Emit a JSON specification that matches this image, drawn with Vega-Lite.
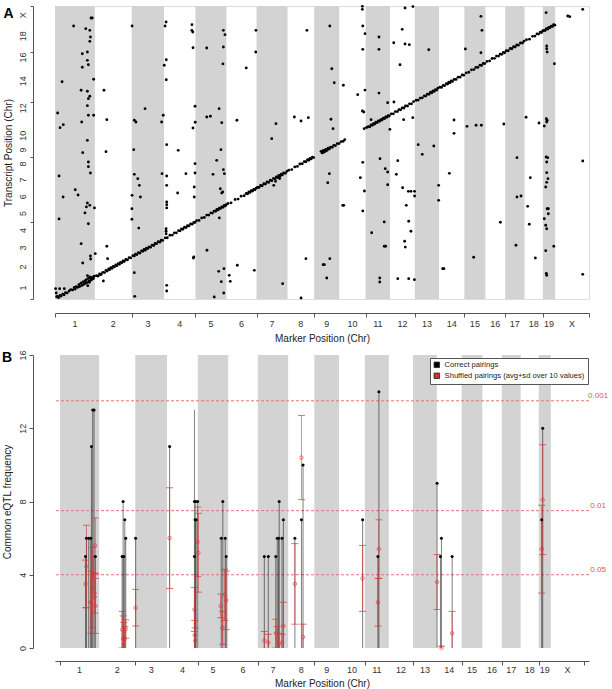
{
"$schema": "https://vega.github.io/schema/vega-lite/v6.json",
"padding": {"left": 2, "top": 4, "right": 0, "bottom": 0},
"spacing": 5,
"config": {
  "font": "Liberation Sans",
  "view": {"stroke": null},
  "axis": {"grid": false, "domainColor": "#555", "tickColor": "#555", "labelColor": "#333", "titleColor": "#222", "labelFontSize": 9, "titleFontSize": 10, "titleFontWeight": "normal", "tickSize": 4, "labelPadding": 2, "labelFlush": false, "labelOverlap": false}
},
"datasets": {
  "chr": [
    {"c":"1","s":0,"e":197,"m":98.5,"g":1},{"c":"2","s":197,"e":379,"m":288,"g":0},{"c":"3","s":379,"e":539,"m":459,"g":1},{"c":"4","s":539,"e":694,"m":616.5,"g":0},
    {"c":"5","s":694,"e":847,"m":770.5,"g":1},{"c":"6","s":847,"e":996,"m":921.5,"g":0},{"c":"7","s":996,"e":1149,"m":1072.5,"g":1},{"c":"8","s":1149,"e":1281,"m":1215,"g":0},
    {"c":"9","s":1281,"e":1405,"m":1343,"g":1},{"c":"10","s":1405,"e":1535,"m":1470,"g":0},{"c":"11","s":1535,"e":1656,"m":1595.5,"g":1},{"c":"12","s":1656,"e":1778,"m":1717,"g":0},
    {"c":"13","s":1778,"e":1898,"m":1838,"g":1},{"c":"14","s":1898,"e":2023,"m":1960.5,"g":0},{"c":"15","s":2023,"e":2127,"m":2075,"g":1},{"c":"16","s":2127,"e":2225,"m":2176,"g":0},
    {"c":"17","s":2225,"e":2320,"m":2272.5,"g":1},{"c":"18","s":2320,"e":2411,"m":2365.5,"g":0},{"c":"19","s":2411,"e":2472,"m":2441.5,"g":1},{"c":"X","s":2472,"e":2639,"m":2555.5,"g":0}
  ],
  "pts": [
    {"x":92,"y":2459},{"x":13,"y":1675},{"x":25,"y":1543},{"x":41,"y":1570},{"x":35,"y":1957},{"x":20,"y":1108},{"x":40,"y":919},{"x":20,"y":721},{"x":100,"y":984},{"x":114,"y":937},{"x":132,"y":1594},{"x":137,"y":1318},{"x":129,"y":1880},{"x":135,"y":2209},{"x":135,"y":2087},{"x":152,"y":2435},{"x":160,"y":2225},{"x":160,"y":2150},{"x":165,"y":2110},{"x":160,"y":1871},{"x":165,"y":1804},{"x":172,"y":1826},{"x":160,"y":1741},{"x":165,"y":1655},{"x":160,"y":1429},{"x":165,"y":1234},{"x":165,"y":1192},{"x":175,"y":1135},{"x":172,"y":2420},{"x":175,"y":2360},{"x":172,"y":2321},{"x":178,"y":2531},{"x":184,"y":2531},{"x":191,"y":1979},{"x":191,"y":1655},{"x":195,"y":820},{"x":160,"y":865},{"x":172,"y":844},{"x":155,"y":829},{"x":148,"y":775},{"x":165,"y":678},{"x":129,"y":498},{"x":137,"y":324},{"x":175,"y":387},{"x":176,"y":360},{"x":3,"y":93},{"x":23,"y":93},{"x":46,"y":93},{"x":6,"y":54},
    {"x":199,"y":408},{"x":242,"y":1880},{"x":256,"y":1615},{"x":252,"y":1327},{"x":256,"y":475},{"x":260,"y":363},{"x":239,"y":162},{"x":224,"y":219},
    {"x":381,"y":2459},{"x":389,"y":1345},{"x":392,"y":1123},{"x":392,"y":1610},{"x":400,"y":1594},{"x":381,"y":934},{"x":380,"y":813},{"x":380,"y":718},{"x":409,"y":1084},{"x":417,"y":1024},{"x":422,"y":919},{"x":414,"y":639},{"x":445,"y":1714},{"x":392,"y":237},{"x":394,"y":24},{"x":527,"y":1594},{"x":535,"y":1655},{"x":529,"y":1129},
    {"x":544,"y":2459},{"x":549,"y":2495},{"x":540,"y":2105},{"x":550,"y":2155},{"x":550,"y":1975},{"x":552,"y":1390},{"x":552,"y":1108},{"x":552,"y":1024},{"x":552,"y":874},{"x":552,"y":849},{"x":552,"y":820},{"x":549,"y":633},{"x":549,"y":610},{"x":549,"y":588},{"x":552,"y":123},{"x":552,"y":72},{"x":609,"y":1339},{"x":647,"y":1129},{"x":606,"y":955},{"x":677,"y":2471},{"x":676,"y":2420},{"x":681,"y":2405},{"x":682,"y":2263},{"x":692,"y":1736},{"x":682,"y":1540},{"x":693,"y":1592},{"x":692,"y":1219},{"x":692,"y":1135},{"x":688,"y":1009},{"x":688,"y":919},{"x":684,"y":369},{"x":686,"y":378},
    {"x":750,"y":2261},{"x":750,"y":1639},{"x":768,"y":1646},{"x":751,"y":439},{"x":781,"y":1123},{"x":799,"y":1249},{"x":787,"y":18},{"x":811,"y":1714},{"x":812,"y":730},{"x":817,"y":993},{"x":820,"y":1345},{"x":824,"y":1588},{"x":822,"y":156},{"x":809,"y":249},{"x":832,"y":2420},{"x":840,"y":2381},{"x":832,"y":2270},{"x":830,"y":2117},{"x":832,"y":1165},{"x":837,"y":1129},{"x":829,"y":964},{"x":835,"y":273},{"x":834,"y":54},{"x":824,"y":955},
    {"x":899,"y":1610},{"x":901,"y":304},{"x":861,"y":213},{"x":866,"y":159},{"x":945,"y":2081},{"x":985,"y":258},{"x":993,"y":2420},{"x":992,"y":2225},
    {"x":1071,"y":1444},{"x":1092,"y":1579},{"x":1125,"y":138},{"x":1081,"y":1024},
    {"x":1183,"y":1639},{"x":1216,"y":1603},{"x":1252,"y":1633},{"x":1245,"y":2420},{"x":1240,"y":363},{"x":1216,"y":9},
    {"x":1358,"y":2459},{"x":1368,"y":2074},{"x":1380,"y":1948},{"x":1364,"y":1619},{"x":1374,"y":1534},{"x":1356,"y":1129},{"x":1348,"y":1048},{"x":1325,"y":309},{"x":1331,"y":309},{"x":1358,"y":363},{"x":1343,"y":189},{"x":1425,"y":1925},{"x":1422,"y":844},{"x":1427,"y":844},
    {"x":1496,"y":1840},{"x":1509,"y":1093},{"x":1519,"y":2636},{"x":1519,"y":2609},{"x":1521,"y":2459},{"x":1521,"y":2249},{"x":1532,"y":2390},{"x":1532,"y":1882},{"x":1519,"y":1693},{"x":1526,"y":1684},{"x":1521,"y":1231},{"x":1529,"y":973},{"x":1521,"y":793},
    {"x":1601,"y":2360},{"x":1601,"y":2249},{"x":1601,"y":1855},{"x":1562,"y":1615},{"x":1606,"y":1264},{"x":1632,"y":1174},{"x":1644,"y":1144},{"x":1644,"y":1029},{"x":1565,"y":597},{"x":1627,"y":694},{"x":1627,"y":475},{"x":1634,"y":475},{"x":1605,"y":189},{"x":1605,"y":153},{"x":1655,"y":1528},{"x":1644,"y":1768},
    {"x":1730,"y":2621},{"x":1769,"y":2634},{"x":1716,"y":2429},{"x":1730,"y":2297},{"x":1751,"y":2291},{"x":1674,"y":2308},{"x":1705,"y":2110},{"x":1675,"y":1774},{"x":1723,"y":1615},{"x":1768,"y":1633},{"x":1694,"y":1246},{"x":1687,"y":1123},{"x":1718,"y":1002},{"x":1746,"y":970},{"x":1759,"y":970},{"x":1777,"y":970},{"x":1736,"y":844},{"x":1777,"y":928},{"x":1748,"y":700},{"x":1759,"y":610},{"x":1728,"y":520},{"x":1731,"y":468},{"x":1694,"y":183},{"x":1748,"y":183},{"x":1776,"y":174},
    {"x":1847,"y":2245},{"x":1795,"y":1390},{"x":1815,"y":1303},{"x":1872,"y":1378},{"x":1896,"y":1024},{"x":1896,"y":889},{"x":1916,"y":273},{"x":1922,"y":273},
    {"x":1972,"y":1612},{"x":1972,"y":1492},{"x":1949,"y":1132},{"x":2028,"y":2252},
    {"x":2105,"y":2546},{"x":2110,"y":2420},{"x":2105,"y":2218},{"x":2036,"y":1555},{"x":2081,"y":1565},{"x":2107,"y":1565},{"x":2069,"y":376},
    {"x":2218,"y":1576},{"x":2201,"y":691},
    {"x":2283,"y":1273},{"x":2283,"y":919},{"x":2303,"y":928},{"x":2278,"y":484},{"x":2328,"y":1637},
    {"x":2349,"y":1093},{"x":2336,"y":835},{"x":2344,"y":673},{"x":2374,"y":369},{"x":2392,"y":1585},{"x":2418,"y":1558},
    {"x":2427,"y":2579},{"x":2430,"y":2279},{"x":2430,"y":2254},{"x":2432,"y":2225},{"x":2468,"y":2119},{"x":2428,"y":1624},{"x":2432,"y":1610},{"x":2430,"y":1594},{"x":2427,"y":1279},{"x":2435,"y":1273},{"x":2430,"y":1234},{"x":2430,"y":1138},{"x":2436,"y":1084},{"x":2430,"y":1051},{"x":2425,"y":1009},{"x":2432,"y":813},{"x":2438,"y":813},{"x":2438,"y":768},{"x":2418,"y":723},{"x":2425,"y":664},{"x":2430,"y":633},{"x":2465,"y":475},{"x":2425,"y":435},{"x":2428,"y":231},{"x":2430,"y":213},
    {"x":2608,"y":1243},{"x":2608,"y":222},
    {"x":8,"y":20},{"x":13,"y":24},{"x":18,"y":12},{"x":25,"y":32},{"x":30,"y":26},{"x":38,"y":44},{"x":45,"y":38},{"x":52,"y":58},{"x":60,"y":55},{"x":70,"y":72},{"x":78,"y":84},{"x":88,"y":82},{"x":95,"y":104},{"x":100,"y":90},{"x":105,"y":112},{"x":112,"y":104},{"x":118,"y":128},{"x":122,"y":112},{"x":128,"y":142},{"x":133,"y":122},{"x":138,"y":155},{"x":142,"y":132},{"x":148,"y":162},{"x":150,"y":140},{"x":155,"y":175},{"x":158,"y":148},{"x":162,"y":120},{"x":165,"y":185},{"x":168,"y":160},{"x":172,"y":200},{"x":175,"y":168},{"x":178,"y":190},{"x":182,"y":175},{"x":186,"y":196},{"x":190,"y":184},{"x":194,"y":205},{"x":160,"y":210},{"x":170,"y":150},
    {"x":205,"y":210},{"x":212,"y":206},{"x":220,"y":226},{"x":228,"y":222},{"x":236,"y":240},{"x":245,"y":238},{"x":252,"y":258},{"x":258,"y":252},{"x":265,"y":270},{"x":270,"y":264},{"x":276,"y":282},{"x":282,"y":276},{"x":288,"y":294},{"x":294,"y":290},{"x":300,"y":306},{"x":306,"y":300},{"x":312,"y":318},{"x":318,"y":312},{"x":324,"y":330},{"x":330,"y":326},{"x":336,"y":342},{"x":342,"y":338},{"x":350,"y":356},{"x":358,"y":352},{"x":366,"y":372},{"x":374,"y":370},
    {"x":385,"y":390},{"x":392,"y":388},{"x":398,"y":404},{"x":405,"y":400},{"x":412,"y":418},{"x":420,"y":414},{"x":428,"y":434},{"x":434,"y":430},{"x":440,"y":446},{"x":446,"y":440},{"x":452,"y":458},{"x":458,"y":454},{"x":465,"y":470},{"x":472,"y":466},{"x":480,"y":486},{"x":488,"y":482},{"x":495,"y":500},{"x":502,"y":498},{"x":510,"y":516},{"x":518,"y":512},{"x":525,"y":530},{"x":532,"y":528},
    {"x":545,"y":550},{"x":555,"y":552},{"x":568,"y":574},{"x":580,"y":576},{"x":590,"y":596},{"x":600,"y":596},{"x":610,"y":616},{"x":618,"y":614},{"x":625,"y":632},{"x":632,"y":628},{"x":640,"y":646},{"x":648,"y":644},{"x":655,"y":660},{"x":662,"y":658},{"x":670,"y":676},{"x":678,"y":674},{"x":686,"y":690},{"x":692,"y":690},
    {"x":700,"y":706},{"x":712,"y":708},{"x":725,"y":730},{"x":738,"y":734},{"x":750,"y":756},{"x":760,"y":756},{"x":770,"y":776},{"x":778,"y":774},{"x":786,"y":792},{"x":794,"y":790},{"x":800,"y":806},{"x":806,"y":802},{"x":812,"y":818},{"x":818,"y":814},{"x":824,"y":830},{"x":830,"y":826},{"x":836,"y":842},{"x":842,"y":838},{"x":846,"y":850},
    {"x":855,"y":860},{"x":870,"y":866},{"x":890,"y":896},{"x":905,"y":900},{"x":920,"y":926},{"x":935,"y":930},{"x":945,"y":950},{"x":952,"y":948},{"x":958,"y":964},{"x":964,"y":960},{"x":970,"y":976},{"x":976,"y":972},{"x":982,"y":988},{"x":988,"y":984},{"x":994,"y":998},
    {"x":1000,"y":1006},{"x":1008,"y":1004},{"x":1016,"y":1022},{"x":1024,"y":1020},{"x":1032,"y":1038},{"x":1040,"y":1036},{"x":1048,"y":1054},{"x":1056,"y":1050},{"x":1064,"y":1070},{"x":1072,"y":1066},{"x":1080,"y":1086},{"x":1088,"y":1082},{"x":1094,"y":1100},{"x":1100,"y":1094},{"x":1106,"y":1112},{"x":1112,"y":1106},{"x":1118,"y":1124},{"x":1124,"y":1118},{"x":1130,"y":1136},{"x":1138,"y":1132},{"x":1146,"y":1150},{"x":1090,"y":1060},{"x":1110,"y":1085},
    {"x":1155,"y":1160},{"x":1170,"y":1166},{"x":1185,"y":1190},{"x":1198,"y":1194},{"x":1210,"y":1216},{"x":1222,"y":1218},{"x":1232,"y":1238},{"x":1240,"y":1236},{"x":1248,"y":1254},{"x":1254,"y":1250},{"x":1260,"y":1266},{"x":1266,"y":1262},{"x":1272,"y":1278},{"x":1278,"y":1274},
    {"x":1315,"y":1330},{"x":1320,"y":1316},{"x":1324,"y":1335},{"x":1328,"y":1322},{"x":1332,"y":1340},{"x":1336,"y":1330},{"x":1340,"y":1348},{"x":1345,"y":1340},{"x":1350,"y":1358},{"x":1356,"y":1352},{"x":1362,"y":1368},{"x":1370,"y":1366},{"x":1378,"y":1384},{"x":1386,"y":1382},{"x":1395,"y":1400},{"x":1404,"y":1400},{"x":1414,"y":1418},{"x":1424,"y":1420},{"x":1432,"y":1436},
    {"x":1528,"y":1534},{"x":1540,"y":1545},{"x":1548,"y":1552},{"x":1555,"y":1550},{"x":1562,"y":1568},{"x":1568,"y":1564},{"x":1574,"y":1580},{"x":1580,"y":1576},{"x":1586,"y":1592},{"x":1592,"y":1588},{"x":1598,"y":1604},{"x":1604,"y":1600},{"x":1610,"y":1616},{"x":1616,"y":1612},{"x":1622,"y":1628},{"x":1628,"y":1624},{"x":1634,"y":1640},{"x":1640,"y":1636},{"x":1646,"y":1652},{"x":1652,"y":1648},
    {"x":1662,"y":1668},{"x":1672,"y":1668},{"x":1682,"y":1688},{"x":1692,"y":1688},{"x":1700,"y":1706},{"x":1708,"y":1704},{"x":1716,"y":1722},{"x":1724,"y":1720},{"x":1732,"y":1738},{"x":1742,"y":1738},{"x":1752,"y":1758},{"x":1762,"y":1758},{"x":1772,"y":1778},
    {"x":1785,"y":1790},{"x":1795,"y":1792},{"x":1805,"y":1810},{"x":1815,"y":1812},{"x":1825,"y":1830},{"x":1832,"y":1828},{"x":1840,"y":1846},{"x":1848,"y":1844},{"x":1856,"y":1862},{"x":1862,"y":1858},{"x":1868,"y":1874},{"x":1874,"y":1870},{"x":1880,"y":1886},{"x":1886,"y":1882},{"x":1892,"y":1898},
    {"x":1902,"y":1908},{"x":1910,"y":1906},{"x":1918,"y":1924},{"x":1926,"y":1922},{"x":1934,"y":1940},{"x":1940,"y":1936},{"x":1946,"y":1952},{"x":1952,"y":1948},{"x":1958,"y":1964},{"x":1964,"y":1960},{"x":1972,"y":1978},{"x":1982,"y":1978},{"x":1992,"y":1998},{"x":2002,"y":1998},{"x":2012,"y":2018},{"x":2020,"y":2016},
    {"x":2032,"y":2036},{"x":2045,"y":2042},{"x":2058,"y":2064},{"x":2070,"y":2066},{"x":2080,"y":2086},{"x":2090,"y":2086},{"x":2100,"y":2106},{"x":2108,"y":2104},{"x":2116,"y":2122},{"x":2124,"y":2120},
    {"x":2135,"y":2140},{"x":2148,"y":2144},{"x":2160,"y":2166},{"x":2172,"y":2168},{"x":2182,"y":2188},{"x":2192,"y":2188},{"x":2200,"y":2206},{"x":2208,"y":2204},{"x":2216,"y":2222},{"x":2222,"y":2218},
    {"x":2230,"y":2236},{"x":2240,"y":2236},{"x":2250,"y":2256},{"x":2258,"y":2254},{"x":2266,"y":2272},{"x":2274,"y":2270},{"x":2282,"y":2288},{"x":2290,"y":2286},{"x":2300,"y":2306},{"x":2310,"y":2306},{"x":2318,"y":2322},
    {"x":2330,"y":2336},{"x":2345,"y":2340},{"x":2360,"y":2366},{"x":2372,"y":2368},{"x":2382,"y":2388},{"x":2390,"y":2386},{"x":2398,"y":2404},{"x":2404,"y":2400},{"x":2410,"y":2414},
    {"x":2416,"y":2420},{"x":2422,"y":2418},{"x":2428,"y":2434},{"x":2434,"y":2430},{"x":2440,"y":2446},{"x":2446,"y":2442},{"x":2452,"y":2458},{"x":2458,"y":2454},{"x":2464,"y":2470},{"x":2470,"y":2466},
    {"x":2534,"y":2549},{"x":2544,"y":2543},{"x":2608,"y":2609}
  ],
  "cor": [
    {"x":128.5,"v":5},{"x":133.4,"v":6},{"x":144.8,"v":6},{"x":154.7,"v":6},{"x":158.2,"v":11},{"x":164.6,"v":13},{"x":171.5,"v":13},{"x":177.9,"v":5},
    {"x":312.8,"v":5},{"x":317.8,"v":8},{"x":321.2,"v":5},{"x":326.2,"v":7},{"x":331.1,"v":6},{"x":381,"v":6},
    {"x":552,"v":11},{"x":677,"v":8},{"x":683.5,"v":8},{"x":693.4,"v":8},{"x":680.5,"v":7},{"x":685.5,"v":7},{"x":677,"v":5},
    {"x":812,"v":6},{"x":820,"v":8},{"x":832,"v":6},{"x":837,"v":5},
    {"x":1029,"v":5},{"x":1049,"v":5},{"x":1087,"v":5},{"x":1094,"v":6},{"x":1101,"v":6},{"x":1104,"v":8},{"x":1118,"v":6},{"x":1125,"v":7},
    {"x":1183,"v":6},{"x":1216,"v":7},{"x":1224,"v":10},
    {"x":1524,"v":7},{"x":1606,"v":14},{"x":1601,"v":5},
    {"x":1899,"v":9},{"x":1921,"v":6},{"x":1916,"v":5},{"x":1975,"v":5},
    {"x":2431,"v":12},{"x":2426,"v":7}
  ],
  "shuf": [
    {"x":133,"m":4.45,"lo":2.2,"hi":6.7},{"x":128.5,"m":3.5,"lo":2.2,"hi":4.8},{"x":154.7,"m":2.5,"lo":0.8,"hi":4.2},{"x":164.6,"m":3.3,"lo":1.1,"hi":5.5},{"x":169,"m":4.0,"lo":3.0,"hi":5.0},{"x":174.5,"m":2.8,"lo":1.9,"hi":4.1},{"x":177.9,"m":5.6,"lo":4.05,"hi":7.1},{"x":178.5,"m":2.3,"lo":0.8,"hi":3.8},
    {"x":313,"m":1.0,"lo":0.0,"hi":2.0},{"x":318,"m":0.5,"lo":-0.75,"hi":1.75},{"x":321,"m":0.2,"lo":-1.0,"hi":1.4},{"x":326,"m":0.48,"lo":-0.22,"hi":1.18},{"x":331,"m":1.04,"lo":0.54,"hi":1.54},
    {"x":381,"m":2.2,"lo":1.2,"hi":3.2},{"x":552,"m":6.0,"lo":3.25,"hi":8.75},
    {"x":693,"m":5.8,"lo":3.9,"hi":7.7},{"x":697,"m":5.2,"lo":3.05,"hi":7.35},{"x":677,"m":2.1,"lo":0.9,"hi":3.3},{"x":679,"m":0.7,"lo":-0.1,"hi":1.5},{"x":681,"m":0.4,"lo":-0.3,"hi":1.1},
    {"x":809,"m":2.3,"lo":1.65,"hi":2.95},{"x":818,"m":1.1,"lo":0.2,"hi":2.0},{"x":829,"m":2.9,"lo":1.5,"hi":4.3},{"x":837,"m":2.6,"lo":1.0,"hi":4.2},
    {"x":1029,"m":0.4,"lo":-0.1,"hi":0.9},{"x":1049,"m":0.3,"lo":-0.2,"hi":0.75},{"x":1087,"m":0.8,"lo":0.0,"hi":1.57},{"x":1094,"m":0.5,"lo":-0.2,"hi":1.18},{"x":1101,"m":0.2,"lo":-0.4,"hi":0.8},{"x":1118,"m":0.3,"lo":-0.15,"hi":0.75},{"x":1125,"m":1.2,"lo":-0.1,"hi":2.5},
    {"x":1183,"m":3.5,"lo":1.3,"hi":5.7},{"x":1216,"m":10.4,"lo":8.1,"hi":12.7},{"x":1224,"m":0.6,"lo":-0.1,"hi":1.3},
    {"x":1524,"m":3.8,"lo":2.0,"hi":5.6},{"x":1606,"m":5.4,"lo":3.8,"hi":7.0},{"x":1601,"m":2.5,"lo":1.2,"hi":3.8},
    {"x":1899,"m":3.6,"lo":2.1,"hi":5.1},{"x":1921,"m":0.02,"lo":-0.1,"hi":0.1},{"x":1975,"m":0.8,"lo":-0.4,"hi":2.0},
    {"x":2431,"m":8.1,"lo":5.1,"hi":11.1},{"x":2426,"m":5.4,"lo":3.0,"hi":7.8}
  ],
  "thr": [
    {"p":"0.001","v":13.5},{"p":"0.01","v":7.5},{"p":"0.05","v":4.0}
  ]
},
"vconcat": [
  {
    "width": 534, "height": 293,
    "view": {"stroke": "#dddddd"},
    "title": {"text": "A", "anchor": "start", "frame": "bounds", "offset": -16, "fontSize": 14, "fontWeight": "bold", "color": "black"},
    "layer": [
      {
        "data": {"name": "chr"},
        "transform": [{"filter": "datum.g == 1"}],
        "mark": {"type": "rect", "color": "#d3d3d3"},
        "encoding": {
          "x": {"field": "s", "type": "quantitative", "scale": {"domain": [0, 2639], "nice": false, "zero": false},
            "axis": {"values": [0,197,379,539,694,847,996,1149,1281,1405,1535,1656,1778,1898,2023,2127,2225,2320,2411,2472,2639],
              "labels": false, "offset": 14, "title": "Marker Position (Chr)", "titlePadding": 16}},
          "x2": {"field": "e"}
        }
      },
      {
        "data": {"name": "pts"},
        "mark": {"type": "point", "filled": true, "color": "black", "opacity": 1, "size": 8},
        "encoding": {
          "x": {"field": "x", "type": "quantitative"},
          "y": {"field": "y", "type": "quantitative", "scale": {"domain": [0, 2639], "nice": false, "zero": false},
            "axis": {"values": [0,197,379,539,694,847,996,1149,1281,1405,1535,1656,1778,1898,2023,2127,2225,2320,2411,2472,2639],
              "labels": false, "offset": 22, "tickSize": 3,
              "title": "Transcript Position (Chr)", "titlePadding": 16}}
        }
      },
      {
        "data": {"name": "chr"},
        "mark": {"type": "text", "color": "#333", "fontSize": 9, "baseline": "top", "align": "center"},
        "encoding": {
          "x": {"field": "m", "type": "quantitative"},
          "y": {"datum": -189, "type": "quantitative"},
          "text": {"field": "c", "type": "nominal"}
        }
      },
      {
        "data": {"name": "chr"},
        "transform": [{"filter": "datum.c != '11' && datum.c != '13' && datum.c != '15' && datum.c != '17' && datum.c != '19'"}],
        "mark": {"type": "text", "color": "#333", "fontSize": 9, "angle": 270, "baseline": "bottom", "align": "center"},
        "encoding": {
          "x": {"datum": -133, "type": "quantitative"},
          "y": {"field": "m", "type": "quantitative"},
          "text": {"field": "c", "type": "nominal"}
        }
      }
    ]
  },
  {
    "width": 534, "height": 293,
    "title": {"text": "B", "anchor": "start", "frame": "bounds", "offset": -15, "fontSize": 14, "fontWeight": "bold", "color": "black"},
    "layer": [
      {
        "data": {"name": "chr"},
        "transform": [{"filter": "datum.g == 1"}],
        "mark": {"type": "rect", "color": "#d3d3d3"},
        "encoding": {
          "x": {"field": "s", "type": "quantitative", "scale": {"domain": [0, 2639], "nice": false, "zero": false},
            "axis": {"values": [0,197,379,539,694,847,996,1149,1281,1405,1535,1656,1778,1898,2023,2127,2225,2320,2411,2472,2639],
              "labels": false, "offset": 13, "title": "Marker Position (Chr)", "titlePadding": 13}},
          "x2": {"field": "e"}
        }
      },
      {
        "data": {"name": "thr"},
        "mark": {"type": "rule", "color": "#e57373", "strokeDash": [3, 2], "strokeWidth": 1},
        "encoding": {
          "y": {"field": "v", "type": "quantitative", "scale": {"domain": [0, 16], "nice": false, "zero": false},
            "axis": {"values": [0,2,4,6,8,10,12,14,16], "offset": 22, "tickSize": 4, "labelAngle": 270, "labelAlign": "center", "labelBaseline": "bottom", "title": "Common eQTL frequency", "titlePadding": 6}}
        }
      },
      {
        "data": {"name": "cor"},
        "mark": {"type": "bar", "orient": "vertical", "color": "black", "opacity": 0.5, "size": 1},
        "encoding": {
          "x": {"field": "x", "type": "quantitative"},
          "y": {"field": "v", "type": "quantitative"}
        }
      },
      {
        "data": {"name": "shuf"},
        "mark": {"type": "rule", "color": "#e03030", "opacity": 0.6, "strokeWidth": 1, "clip": true},
        "encoding": {
          "x": {"field": "x", "type": "quantitative"},
          "y": {"field": "lo", "type": "quantitative"},
          "y2": {"field": "hi"}
        }
      },
      {
        "data": {"name": "shuf"},
        "mark": {"type": "tick", "orient": "horizontal", "color": "#e03030", "opacity": 0.7, "size": 7, "thickness": 1, "clip": true},
        "encoding": {
          "x": {"field": "x", "type": "quantitative"},
          "y": {"field": "lo", "type": "quantitative"}
        }
      },
      {
        "data": {"name": "shuf"},
        "mark": {"type": "tick", "orient": "horizontal", "color": "#e03030", "opacity": 0.7, "size": 7, "thickness": 1, "clip": true},
        "encoding": {
          "x": {"field": "x", "type": "quantitative"},
          "y": {"field": "hi", "type": "quantitative"}
        }
      },
      {
        "data": {"name": "shuf"},
        "mark": {"type": "point", "filled": false, "color": "#e03030", "opacity": 0.8, "size": 12, "strokeWidth": 0.8},
        "encoding": {
          "x": {"field": "x", "type": "quantitative"},
          "y": {"field": "m", "type": "quantitative"}
        }
      },
      {
        "data": {"name": "thr"},
        "mark": {"type": "text", "color": "#e05555", "fontSize": 8, "dy": -5, "align": "center"},
        "encoding": {
          "x": {"datum": 2710, "type": "quantitative"},
          "y": {"field": "v", "type": "quantitative"},
          "text": {"field": "p", "type": "nominal"}
        }
      },
      {
        "data": {"name": "chr"},
        "mark": {"type": "text", "color": "#333", "fontSize": 9, "baseline": "top", "align": "center"},
        "encoding": {
          "x": {"field": "m", "type": "quantitative"},
          "y": {"datum": -0.98, "type": "quantitative"},
          "text": {"field": "c", "type": "nominal"}
        }
      },
      {
        "data": {"name": "cor"},
        "mark": {"type": "point", "filled": true, "opacity": 1, "size": 9},
        "encoding": {
          "x": {"field": "x", "type": "quantitative"},
          "y": {"field": "v", "type": "quantitative"},
          "color": {"datum": "Correct pairings", "type": "nominal",
            "scale": {"domain": ["Correct pairings", "Shuffled pairings (avg+sd over 10 values)"], "range": ["black", "#dd2a2a"]},
            "legend": {"orient": "none", "legendX": 375, "legendY": 352, "title": null, "symbolType": "square", "symbolSize": 30, "symbolStrokeColor": "#222", "symbolStrokeWidth": 0.8, "labelFontSize": 7.6, "labelColor": "#222", "labelLimit": 300, "strokeColor": "#555", "fillColor": "white", "padding": 3, "rowPadding": 1, "symbolOpacity": 1}}
        }
      }
    ]
  }
]
}
